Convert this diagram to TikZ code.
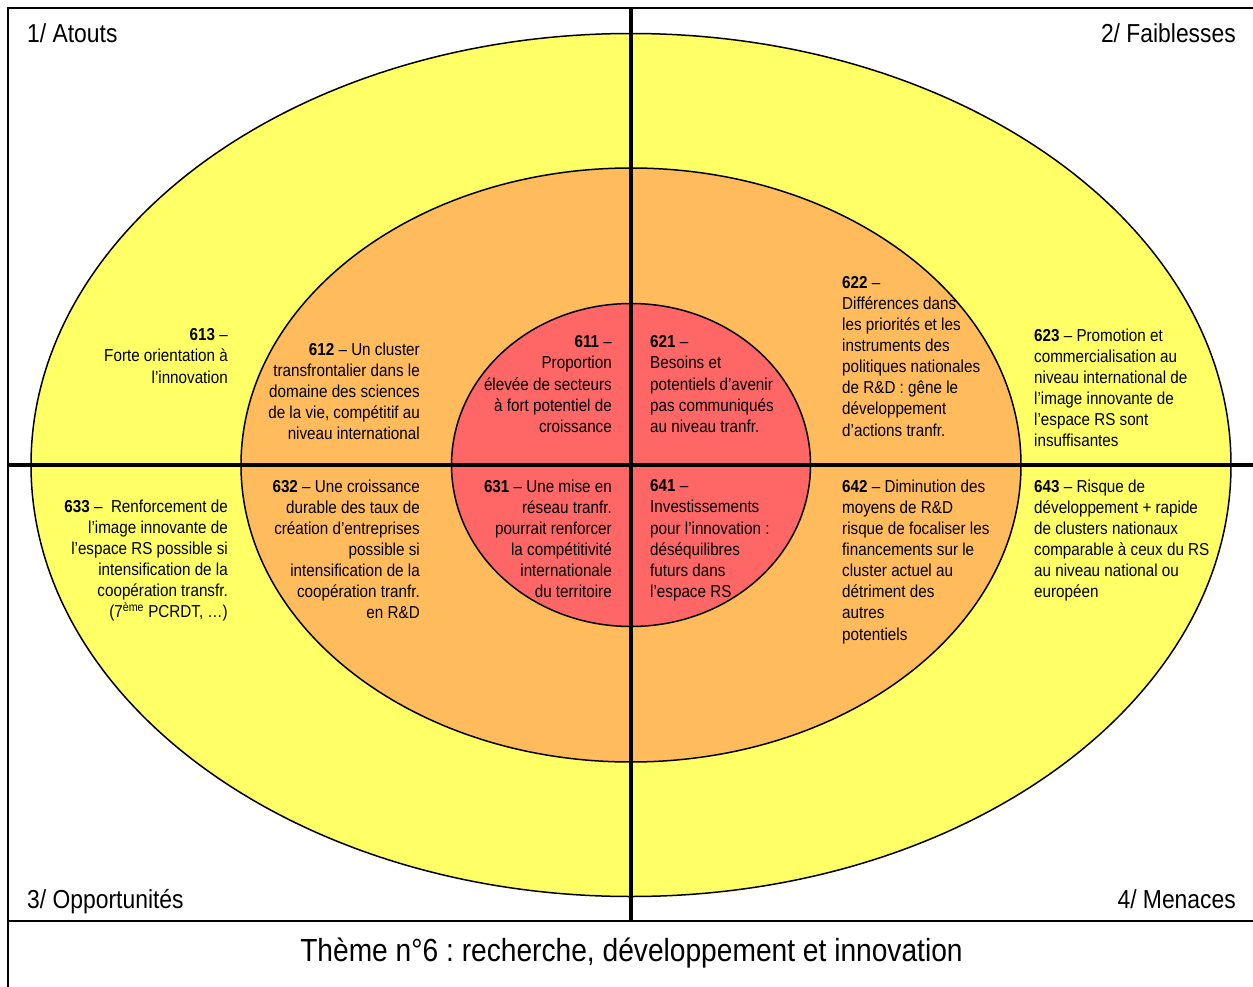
\documentclass[tikz,border=0pt]{standalone}
\usepackage{fontspec}
\setmainfont{Liberation Sans}[FakeStretch=0.88]
\frenchspacing
\definecolor{ringout}{HTML}{FFFF66}
\definecolor{ringmid}{HTML}{FFBB5C}
\definecolor{ringin}{HTML}{FF6666}
\tikzset{ring/.style={draw=black, line width=1.5pt}}
\tikzset{cross/.style={line width=4pt}}
\tikzset{body/.style={font=\fontsize{17.3}{21.1}\selectfont, inner sep=0pt}}
\tikzset{leftcol/.style={body, align=left, anchor=north west}}
\tikzset{rightcol/.style={body, align=right, anchor=north east}}
\tikzset{corner/.style={font=\fontsize{26}{30}\selectfont, inner sep=0pt}}
\newcommand{\refnum}[1]{\textbf{#1}}

\begin{document}
\frenchspacing
\begin{tikzpicture}[x=1pt, y=-1pt]
      \useasboundingbox (0,0) rectangle (1253,987);
      \coordinate (c) at (631,465);

      \draw[ring, fill=ringout] (c) ellipse [x radius=600, y radius=431.5];
      \draw[ring, fill=ringmid] (c) ellipse [x radius=390, y radius=297];
      \draw[ring, fill=ringin] (c) ellipse [x radius=179.5, y radius=161.5];

      \coordinate (n) at (631,8.5);
      \coordinate (s) at (631,920.5);
      \coordinate (w) at (7.5,465);
      \coordinate (e) at (1270,465);
      \draw[cross] (n) -- (s);
      \draw[cross] (w) -- (e);
      \draw[line width=2pt] (7.5,1000) -- (7.5,8.5) -- (1270,8.5);
      \draw[line width=2pt] (7.5,920.5) -- (1270,920.5);

      \node[corner, anchor=base west] (atouts) at (27,43) {1/ Atouts};
      \node[corner, anchor=base east] (faibl) at (1236,43) {2/ Faiblesses};
      \node[corner, anchor=base west] (opport) at (27,908) {3/ Opportunités};
      \node[corner, anchor=base east] (menace) at (1236,908) {4/ Menaces};
      \node[inner sep=0pt, anchor=base, font=\fontsize{32}{36}\selectfont] (theme)
      at (631.5,961) {Thème n°6 : recherche, développement et innovation};

      \node[rightcol] (t613) at (228,328.6)
      {\refnum{613} –\\Forte orientation à\\l’innovation};
      \node[rightcol] (t612) at (420,342.6)
      {\refnum{612} – Un cluster\\transfrontalier dans le\\domaine des sciences\\de la vie, compétitif au\\niveau international};
      \node[rightcol] (t611) at (612,335.6)
      {\refnum{611} –\\Proportion\\élevée de secteurs\\à fort potentiel de\\croissance};
      \node[leftcol] (t621) at (650,335.6)
      {\refnum{621} –\\Besoins et\\potentiels d’avenir\\pas communiqués\\au niveau tranfr.};
      \node[leftcol] (t622) at (842,276.1)
      {\refnum{622} –\\Différences dans\\les priorités et les\\instruments des\\politiques nationales\\de R\&D : gêne le\\développement\\d’actions tranfr.};
      \node[leftcol] (t623) at (1034,328.6)
      {\refnum{623} – Promotion et\\commercialisation au\\niveau international de\\l’image innovante de\\l’espace RS sont\\insuffisantes};

      \node[rightcol] (t633) at (228,499.6)
      {\refnum{633} –\ \ Renforcement de\\l’image innovante de\\l’espace RS possible si\\intensification de la\\coopération transfr.\\(7\textsuperscript{ème} PCRDT, \ldots)};
      \node[rightcol] (t632) at (420,479.6)
      {\refnum{632} – Une croissance\\durable des taux de\\création d’entreprises\\possible si\\intensification de la\\coopération tranfr.\\en R\&D};
      \node[rightcol] (t631) at (612,479.6)
      {\refnum{631} – Une mise en\\réseau tranfr.\\pourrait renforcer\\la compétitivité\\internationale\\du territoire};
      \node[leftcol] (t641) at (650,479.6)
      {\refnum{641} –\\Investissements\\pour l’innovation :\\déséquilibres\\futurs dans\\l’espace RS};
      \node[leftcol] (t642) at (842,479.6)
      {\refnum{642} – Diminution des\\moyens de R\&D\\risque de focaliser les\\financements sur le\\cluster actuel au\\détriment des\\autres\\potentiels};
      \node[leftcol] (t643) at (1034,479.6)
      {\refnum{643} – Risque de\\développement + rapide\\de clusters nationaux\\comparable à ceux du RS\\au niveau national ou\\européen};
    \end{tikzpicture}
\end{document}
